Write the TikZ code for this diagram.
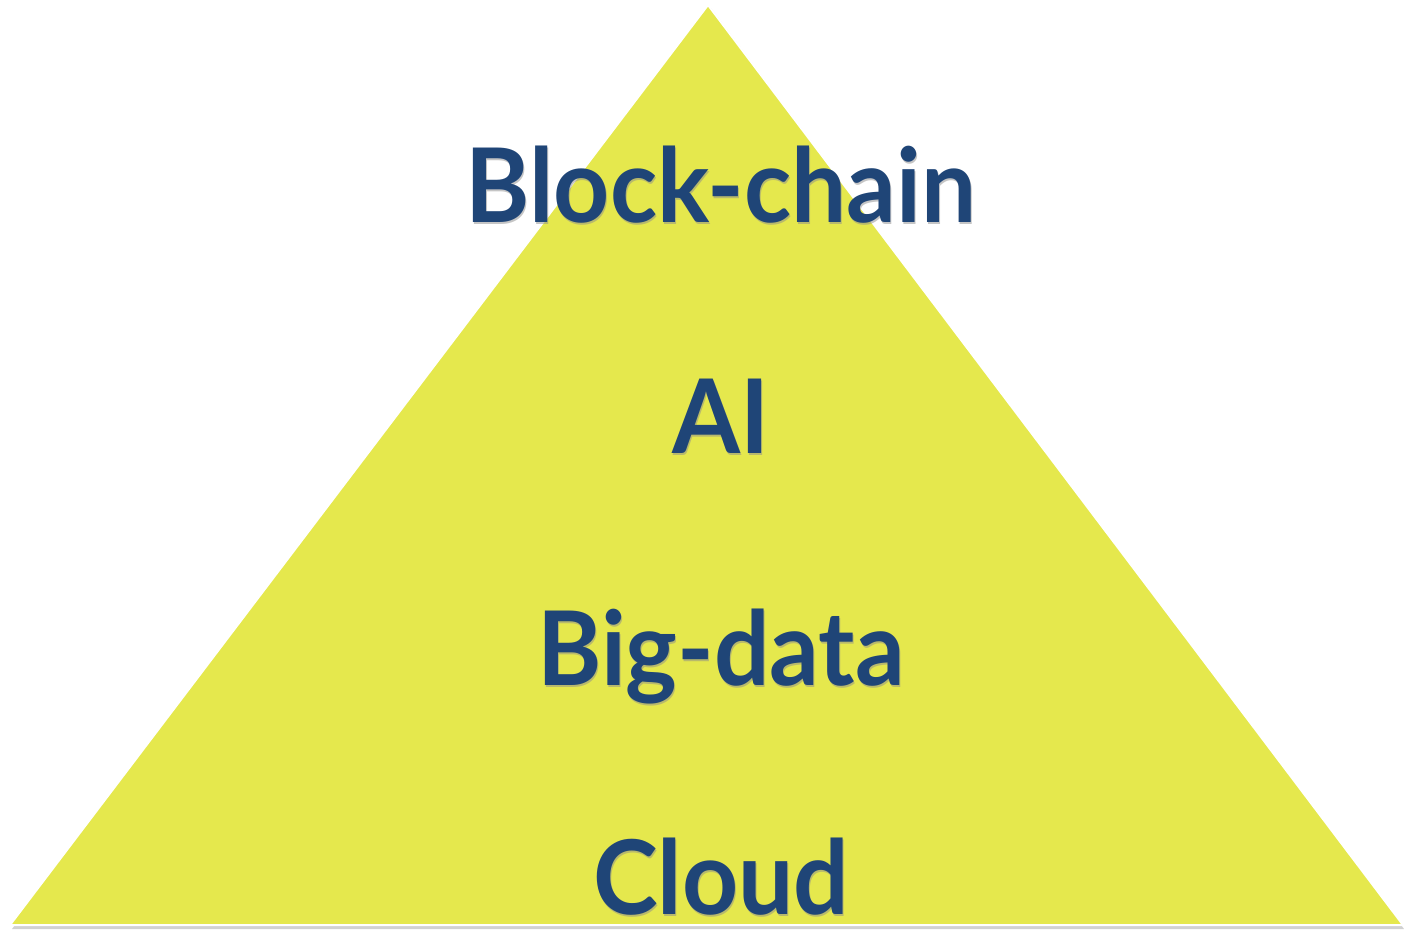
\documentclass[tikz,border=0pt]{standalone}
\usepackage{fontspec}
\setmainfont{Lato}
\definecolor{tri}{HTML}{E5E84D}
\definecolor{txt}{HTML}{1F4577}
\begin{document}
\begin{tikzpicture}[x=1pt,y=-1pt,
  lbl/.style={anchor=base,text=txt,inner sep=0pt,text depth=0pt,font=\fontsize{103}{110}\selectfont\bfseries,xscale=0.95},
  shd/.style={anchor=base,text=black!45,opacity=0.5,inner sep=0pt,text depth=0pt,font=\fontsize{103}{110}\selectfont\bfseries,xscale=0.95}]
\useasboundingbox (0,0) rectangle (1404,929);
% shadow
\fill[black!18] (711,8) -- (1404,929) -- (12,929) -- cycle;
\fill[tri,draw=white,line width=2pt,line join=miter] (708,5) coordinate (apex) -- (1403,925) coordinate (br) -- (10,925) coordinate (bl) -- cycle;
\foreach \t/\y/\n in {Block-chain/222/bc, AI/453/ai, Big-data/685/bd, Cloud/914/cl}{
  \node[shd] at (722,\y+2) {\t};
  \node[lbl] (\n) at (721,\y) {\t};
}
\end{tikzpicture}
\end{document}
